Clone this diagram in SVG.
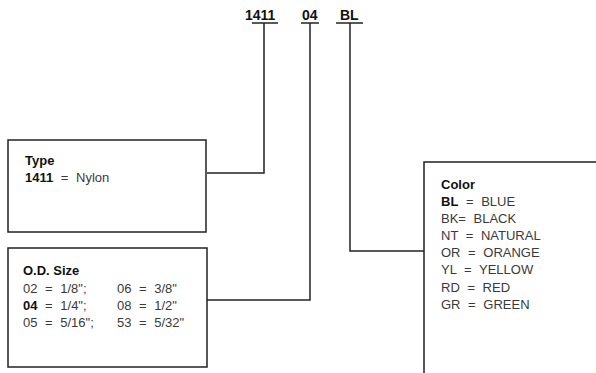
<svg xmlns="http://www.w3.org/2000/svg" width="596" height="373" viewBox="0 0 596 373">
<style>
.box{fill:#fff;stroke:#222;stroke-width:1.5}
.ln{fill:none;stroke:#222;stroke-width:1.5}
text{font-family:"Liberation Sans",Arial,sans-serif;font-size:13px;fill:#3a3a3a;word-spacing:4px}
.b{font-weight:bold;fill:#111}
.t{font-weight:bold;fill:#111;word-spacing:0}
.top{font-weight:bold;font-size:14px;fill:#111}
</style>
<rect width="596" height="373" fill="#fff"/>
<g id="code">
<text class="top" x="245" y="20">1411</text>
<text class="top" x="302" y="20">04</text>
<text class="top" x="340" y="20">BL</text>
<line class="ln" x1="252" y1="23" x2="278" y2="23"/>
<line class="ln" x1="301" y1="23" x2="319" y2="23"/>
<line class="ln" x1="336" y1="23" x2="363" y2="23"/>
</g>
<g id="connectors">
<polyline class="ln" points="264,23 264,173 207,173"/>
<polyline class="ln" points="310,23 310,300 207,300"/>
<polyline class="ln" points="350,23 350,251 424,251"/>
</g>
<g id="type">
<rect class="box" x="8" y="140" width="198" height="92"/>
<text class="t" x="25" y="165">Type</text>
<text x="25" y="182"><tspan class="b">1411</tspan> = Nylon</text>
</g>
<g id="odsize">
<rect class="box" x="8" y="248" width="199" height="119"/>
<text class="t" x="23" y="275">O.D. Size</text>
<text x="23" y="293">02 = 1/8";</text>
<text x="117" y="293">06 = 3/8"</text>
<text x="23" y="310"><tspan class="b">04</tspan> = 1/4";</text>
<text x="117" y="310">08 = 1/2"</text>
<text x="23" y="327">05 = 5/16";</text>
<text x="117" y="327">53 = 5/32"</text>
</g>
<g id="color">
<polyline class="ln" points="424,374 424,162 597,162"/>
<text class="t" x="441" y="189">Color</text>
<text x="441" y="206"><tspan class="b">BL</tspan> = BLUE</text>
<text x="441" y="223">BK= BLACK</text>
<text x="441" y="240">NT = NATURAL</text>
<text x="441" y="257">OR = ORANGE</text>
<text x="441" y="274">YL = YELLOW</text>
<text x="441" y="292">RD = RED</text>
<text x="441" y="309">GR = GREEN</text>
</g>
</svg>
